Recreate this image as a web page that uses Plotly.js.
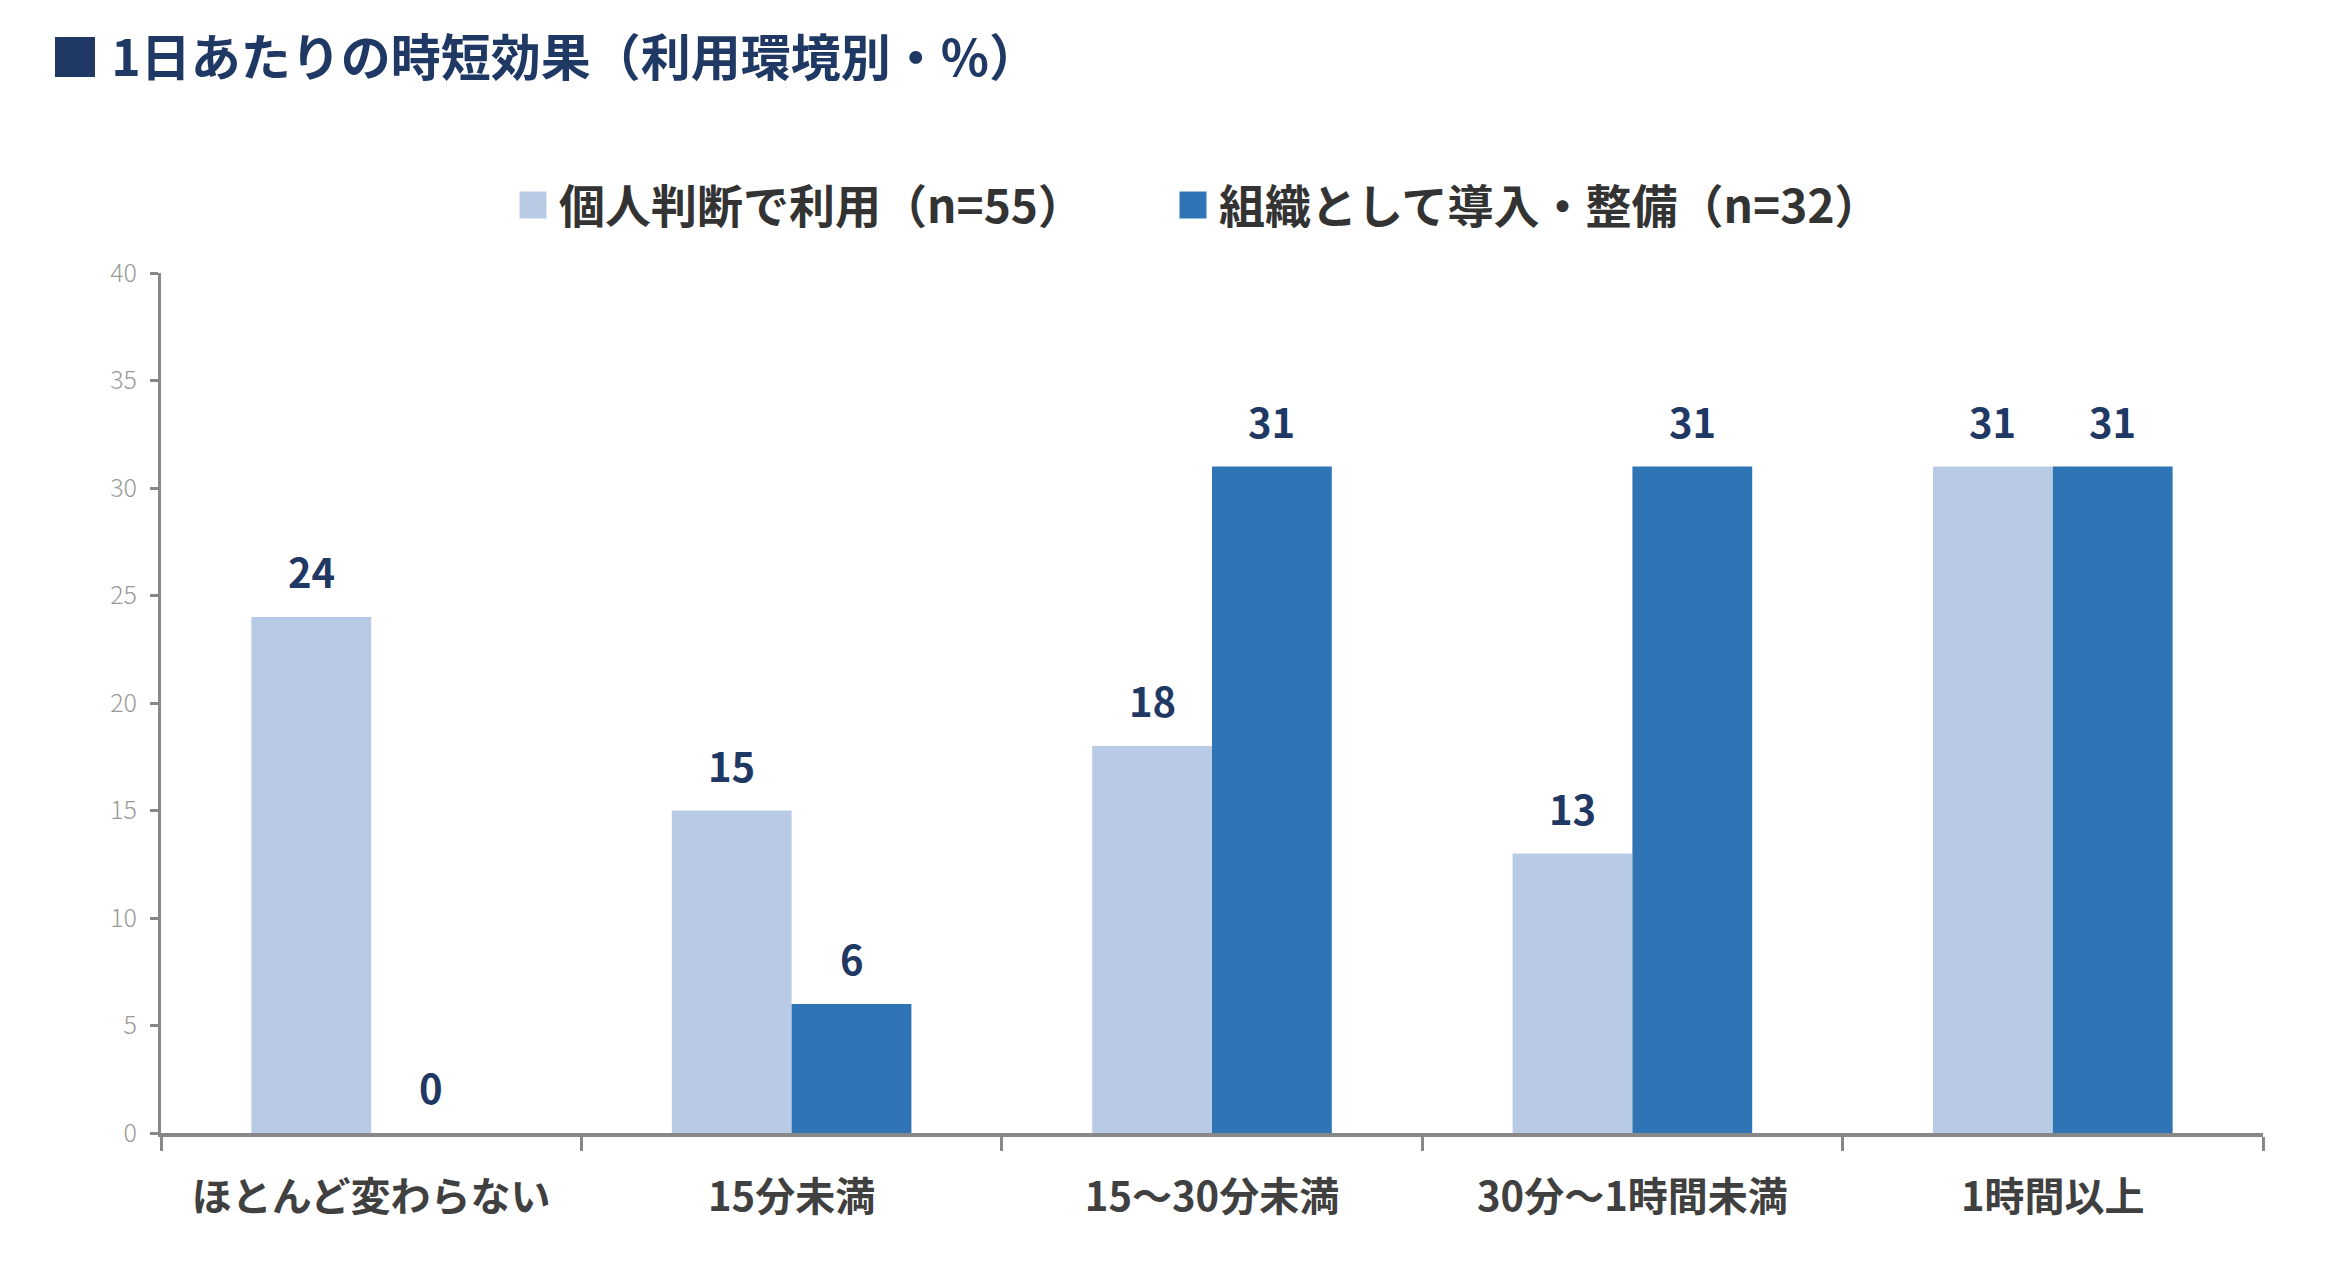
<!DOCTYPE html>
<html lang="ja">
<head>
<meta charset="utf-8">
<script src="https://cdn.plot.ly/plotly-3.0.1.min.js"></script>
<style>
  html, body { margin: 0; padding: 0; background: #fff; }
  #chart { width: 2332px; height: 1280px; }
</style>
</head>
<body>
<div id="chart"></div>
<script>
const categories = ['ほとんど変わらない', '15分未満', '15～30分未満', '30分～1時間未満', '1時間以上'];
const personalValues = [24, 15, 18, 13, 31];
const orgValues = [0, 6, 31, 31, 31];
const seriesNames = ['個人判断で利用（n=55）', '組織として導入・整備（n=32）'];
const yTicks = [0, 5, 10, 15, 20, 25, 30, 35, 40];

const FONT = '"Noto Sans CJK JP", "Noto Sans", sans-serif';
const WIDTH = 2332;
const HEIGHT = 1280;
const MARGIN = { l: 161, r: 69, t: 273, b: 147 };
const BAR_GAP = 0.43;
const LABEL_COLOR = '#1f3864';
const SWATCH = 13.5;
const SWATCH_SHIFT = 6;

const plotW = WIDTH - MARGIN.l - MARGIN.r;
const plotH = HEIGHT - MARGIN.t - MARGIN.b;
const catW = plotW / categories.length;
const barW = catW * (1 - BAR_GAP) / 2;

const traces = [
  {
    type: 'bar',
    name: seriesNames[0],
    x: categories,
    y: personalValues,
    marker: { color: '#b9cbe4' },
    legendwidth: 615,
    hoverinfo: 'x+y+name'
  },
  {
    type: 'bar',
    name: seriesNames[1],
    x: categories,
    y: orgValues,
    marker: { color: '#2f74b5' },
    legendwidth: 720,
    hoverinfo: 'x+y+name'
  }
];

// value labels above each bar, offset by half a bar width
const labelFor = (values, side) => values.map((v, i) => ({
  x: categories[i],
  y: v,
  xref: 'x',
  yref: 'y',
  text: String(v),
  showarrow: false,
  xshift: side * barW / 2,
  yshift: 15,
  yanchor: 'bottom',
  font: { family: FONT, size: 40, color: LABEL_COLOR, weight: 700 }
}));

const layout = {
  width: WIDTH,
  height: HEIGHT,
  margin: MARGIN,
  paper_bgcolor: '#ffffff',
  plot_bgcolor: '#ffffff',
  font: { family: FONT, color: '#404040' },
  barmode: 'group',
  bargap: BAR_GAP,
  bargroupgap: 0,
  title: {
    text: '■ 1日あたりの時短効果（利用環境別・%）',
    xref: 'container',
    yref: 'container',
    x: 50 / WIDTH,
    xanchor: 'left',
    y: 1 - 58 / HEIGHT,
    yanchor: 'middle',
    font: { family: FONT, size: 50, color: LABEL_COLOR, weight: 700 }
  },
  showlegend: true,
  legend: {
    orientation: 'h',
    x: (519 - MARGIN.l) / plotW,
    xanchor: 'left',
    y: 1 + (MARGIN.t - 205) / plotH,
    yanchor: 'middle',
    font: { family: FONT, size: 46, color: '#333333', weight: 700 },
    bgcolor: 'rgba(0,0,0,0)'
  },
  xaxis: {
    type: 'category',
    showgrid: false,
    zeroline: false,
    showline: true,
    linecolor: '#888888',
    linewidth: 4,
    ticks: 'outside',
    tickson: 'boundaries',
    ticklen: 14,
    tickwidth: 3,
    tickcolor: '#888888',
    ticklabelstandoff: 26,
    tickfont: { family: FONT, size: 40, color: '#404040', weight: 700 }
  },
  yaxis: {
    range: [0, 40],
    tickvals: yTicks,
    ticktext: yTicks.map(String),
    showgrid: false,
    zeroline: false,
    showline: true,
    linecolor: '#888888',
    linewidth: 3,
    ticks: 'outside',
    ticklen: 8,
    tickwidth: 3,
    tickcolor: '#888888',
    ticklabelstandoff: 8,
    tickfont: { family: FONT, size: 25, color: '#9a9a9a', weight: 300 }
  },
  annotations: [...labelFor(personalValues, -1), ...labelFor(orgValues, 1)]
};

Plotly.newPlot('chart', traces, layout, { displayModeBar: false, staticPlot: true }).then((gd) => {
  // enlarge the legend swatches to match the reference, keeping plotly's own centring
  const r = SWATCH - SWATCH_SHIFT;
  const l = SWATCH + SWATCH_SHIFT;
  const d = `M${r},${SWATCH}H-${l}V-${SWATCH}H${r}Z`;
  gd.querySelectorAll('.legend .legendpoints path').forEach((p) => {
    p.setAttribute('d', d);
  });
});
</script>
</body>
</html>
